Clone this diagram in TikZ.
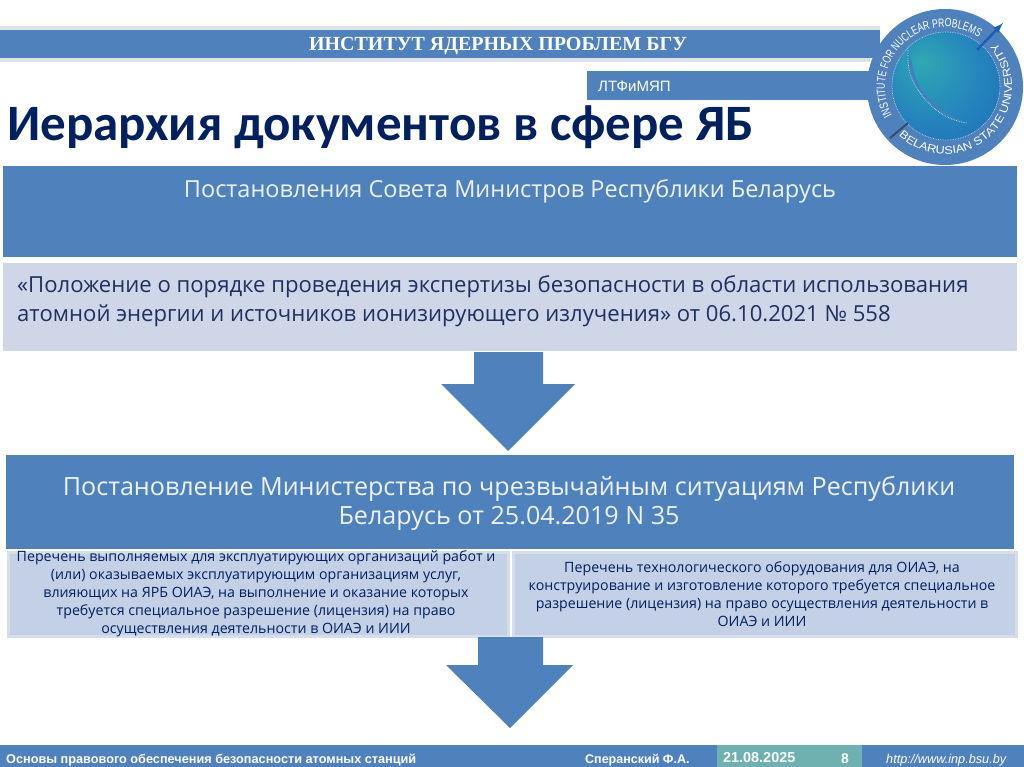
\documentclass[tikz,border=0pt]{standalone}
\usepackage{fontspec}
\setmainfont{Open Sans}
\newfontfamily\serifhead{Liberation Serif}
\newfontfamily\arialf{Liberation Sans}
\newfontfamily\titlef{Carlito}
\newfontfamily\logof[FakeStretch=0.72]{Liberation Sans}
\newfontfamily\logow[FakeStretch=1.15]{Liberation Sans}
\usetikzlibrary{decorations.text}
\definecolor{bandblue}{HTML}{4F81BD}
\definecolor{lightrow}{HTML}{CFD6E7}
\definecolor{lightcell}{HTML}{C4D0E5}
\definecolor{celledge}{HTML}{D6DEEC}
\definecolor{darktext}{HTML}{002060}
\definecolor{bodytext}{HTML}{1F3060}
\definecolor{tealfoot}{HTML}{6FB0B0}
\definecolor{bandshade}{HTML}{DDE1EA}
\definecolor{ballcentre}{HTML}{2FA9B4}
\definecolor{ballmid}{HTML}{2585BC}
\definecolor{ballouter}{HTML}{1C5FB4}
\pgfdeclareradialshading{logoball}{\pgfpoint{-12bp}{12bp}}{color(0bp)=(ballcentre); color(22bp)=(ballmid); color(50bp)=(ballouter)}
\tikzset{
  bar/.style={fill=bandblue,draw=none},
  boxtext/.style={align=center,inner sep=0pt,text=bodytext},
  whitetext/.style={boxtext,text=white!90!bandblue},
  smalltext/.style={align=center,inner sep=0pt,font=\fontsize{14.2}{18}\selectfont,text=darktext},
  foot/.style={inner sep=0pt,anchor=base west,text=white,font=\arialf\bfseries\fontsize{12.5}{12.5}\selectfont},
  blockarrow/.style={fill=bandblue,draw=none},
  cellbox/.style={fill=lightcell,draw=celledge,line width=3pt,anchor=north west,inner sep=0pt}
}
\begin{document}
\begin{tikzpicture}[x=1pt,y=-1pt]
\useasboundingbox (0,0) rectangle (1024,767);
\fill[white] (0,0) rectangle (1024,767);
% header
\fill[bandshade] (0,26) rectangle (880,62);
\fill[bar] (0,30) rectangle (880,58);
\fill[white] (870,58) rectangle (880,62);
\node[inner sep=0pt,text=white,font=\serifhead\bfseries\fontsize{20}{20}\selectfont] (head) at (498,46) {ИНСТИТУТ ЯДЕРНЫХ ПРОБЛЕМ БГУ};
\fill[bar] (587,71) rectangle (880,100);
\node[inner sep=0pt,anchor=west,text=white,font=\arialf\fontsize{15}{15}\selectfont] (lab) at (598,86) {ЛТФиМЯП};
\node[inner sep=0pt,anchor=west,text=darktext,font=\titlef\bfseries\fontsize{51}{51}\selectfont] (title) at (7,127) {Иерархия документов в сфере ЯБ};
% logo
\begin{scope}[shift={(945,87)},y=1pt]
  \fill[bandblue] (0,0) circle (78);
  \shade[shading=logoball] (1,1) circle (54);
  \fill[bandblue!55!ballmid] (-37,37) .. controls (-38,14) and (-33,4) .. (-20,-12) .. controls (-8,-26) and (6,-34) .. (22,-36) .. controls (2,-28) and (-12,-18) .. (-24,-2) .. controls (-32,10) and (-32,24) .. (-37,37);
  \draw[white!70!bandblue,line width=.7pt,densely dotted] (-37,37) .. controls (-38,14) and (-33,4) .. (-20,-12) .. controls (-8,-26) and (6,-34) .. (22,-36);
  \draw[white!70!bandblue,line width=.7pt,densely dotted] (1,1) circle (54);
  \draw[bandblue!60!black,line width=2pt] (-55,-51) -- (-37,-36);
  \draw[ballouter,line width=2.5pt,-latex] (32,37) -- (58,64);
  \path[postaction={decorate,decoration={text along path,text align=center,text color=white,
     text={|\logof\fontsize{12}{12}\selectfont|INSTITUTE FOR NUCLEAR PROBLEMS}}}]
     (237:60) arc[start angle=237,end angle=27,radius=60];
  \path[postaction={decorate,decoration={text along path,text align=center,text color=white,
     text={|\logow\fontsize{11}{11}\selectfont|BELARUSIAN STATE UNIVERSITY}}}]
     (203.5:67) arc[start angle=203.5,end angle=423.5,radius=67];
\end{scope}
% boxes
\node[bar,minimum width=1014pt,minimum height=91pt,anchor=north west,inner sep=0pt] (b1) at (3,166) {};
\node[whitetext,font=\fontsize{23.5}{29}\selectfont] (t1) at (510,191) {Постановления Совета Министров Республики Беларусь};
\node[fill=lightrow,minimum width=1014pt,minimum height=88pt,anchor=north west,inner sep=0pt] (b2) at (3,263) {};
\node[boxtext,align=left,anchor=west,font=\fontsize{22.1}{29}\selectfont] (t2) at (17,301) {«Положение о порядке проведения экспертизы безопасности в области использования\\атомной энергии и источников ионизирующего излучения» от 06.10.2021 № 558};
\fill[blockarrow] (474,352) -- (543,352) -- (543,384) -- (575,384) -- (508,451) -- (441,384) -- (474,384) -- cycle;
\node[bar,minimum width=1008pt,minimum height=94pt,anchor=north west,inner sep=0pt] (b3) at (6,455) {};
\node[whitetext,font=\fontsize{25.1}{29}\selectfont] (t3) at (509,503) {Постановление Министерства по чрезвычайным ситуациям Республики\\Беларусь от 25.04.2019 N 35};
\node[cellbox,minimum width=500pt,minimum height=84pt] (b4) at (6.5,550.5) {};
\node[cellbox,minimum width=503pt,minimum height=84pt] (b5) at (512,550.5) {};
\node[smalltext] (t4) at (256,594) {Перечень выполняемых для эксплуатирующих организаций работ и\\(или) оказываемых эксплуатирующим организациям услуг,\\влияющих на ЯРБ ОИАЭ, на выполнение и оказание которых\\требуется специальное разрешение (лицензия) на право\\осуществления деятельности в ОИАЭ и ИИИ};
\node[smalltext] (t5) at (762,594) {Перечень технологического оборудования для ОИАЭ, на\\конструирование и изготовление которого требуется специальное\\разрешение (лицензия) на право осуществления деятельности в\\ОИАЭ и ИИИ};
\fill[blockarrow] (478,637) -- (543,637) -- (543,665) -- (573,665) -- (510,728) -- (446,665) -- (478,665) -- cycle;
% footer
\fill[bar] (0,745) rectangle (1024,767);
\fill[tealfoot] (717,745) rectangle (862,767);
\node[foot,font=\arialf\bfseries\fontsize{12.7}{12.7}\selectfont] (f1) at (6,763.5) {Основы правового обеспечения безопасности атомных станций};
\node[foot] (f2) at (585,763.5) {Сперанский Ф.А.};
\node[foot,font=\arialf\bfseries\fontsize{14.4}{14.4}\selectfont] (f3) at (723,762.5) {21.08.2025};
\node[foot,font=\arialf\bfseries\fontsize{14}{14}\selectfont] (f4) at (841,763.5) {8};
\node[foot,font=\arialf\itshape\fontsize{12.7}{12.7}\selectfont] (f5) at (886,763.5) {http://www.inp.bsu.by};
\end{tikzpicture}
\end{document}
